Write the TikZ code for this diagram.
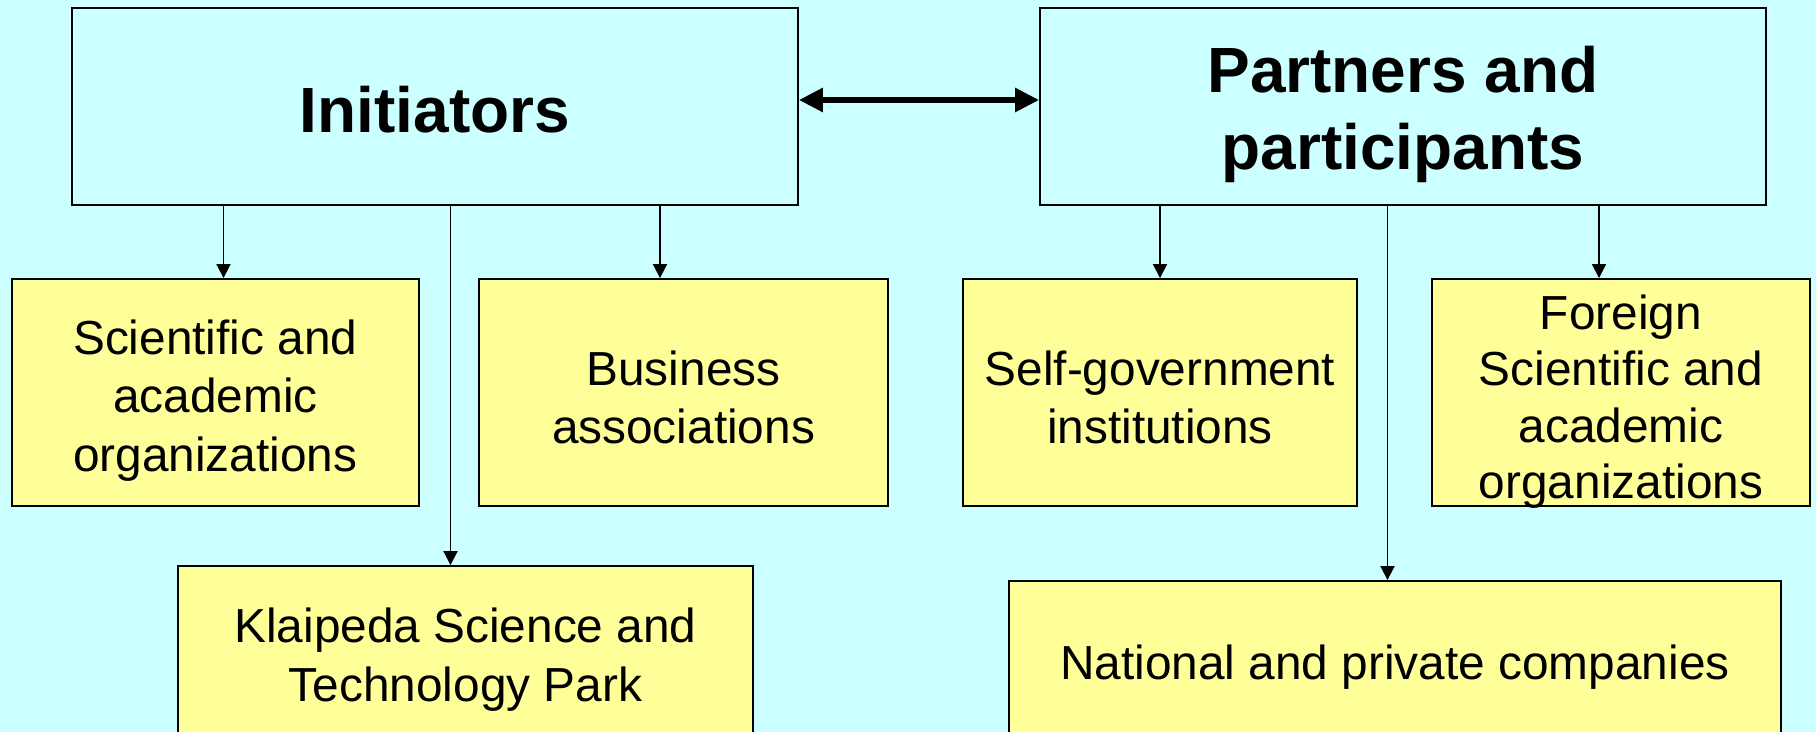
\documentclass[tikz,border=0pt]{standalone}
\usepackage{fontspec}
\setmainfont{Liberation Sans}
\usepackage{xcolor}
\usetikzlibrary{arrows.meta}
\usetikzlibrary{positioning}
\definecolor{skybg}{HTML}{CCFFFF}
\definecolor{boxyellow}{HTML}{FFFF99}
\newcommand{\capline}[1]{\rule{0pt}{#1}}
\tikzset{
  topbox/.style={draw=black, fill=skybg, line width=1.1pt, align=center, inner sep=0pt,
    font=\fontsize{36.4}{43.6}\selectfont\bfseries},
  subbox/.style={draw=black, fill=boxyellow, line width=1.1pt, align=center, inner sep=0pt,
    font=\fontsize{27.2}{33.3}\selectfont},
  arr/.style={-{Triangle[length=0.28cm,width=0.28cm]}, line width=1.1pt},
  biarr/.style={{Triangle[length=0.48cm,width=0.46cm]}-{Triangle[length=0.48cm,width=0.46cm]}, line width=3.2pt}
}

\begin{document}
\begin{tikzpicture}[x=0.02cm, y=-0.02cm]
    \path[use as bounding box, fill=skybg] (0,0) rectangle (1816,732);
    \clip (0,0) rectangle (1816,732);
    % top row
    \node[topbox, minimum width=14.52cm, minimum height=3.94cm] (A) at (435,106.5) {\capline{29.5pt}Initiators};
    \node[topbox, minimum width=14.52cm, minimum height=3.94cm] (B) at (1403,106.5) {\capline{35.2pt}Partners and\\participants};
    % middle row
    \node[subbox, minimum width=8.15cm, minimum height=4.54cm] (C1) at (215.3,392.5) {\capline{28.6pt}Scientific and\\academic\\organizations};
    \node[subbox, minimum width=8.18cm, minimum height=4.54cm] (C2) at (683.5,392.5) {\capline{25.2pt}Business\\associations};
    \node[subbox, minimum width=7.88cm, minimum height=4.54cm] (D1) at (1160,392.5) {\capline{25.2pt}Self-government\\institutions};
    \node[subbox, minimum width=7.56cm, minimum height=4.54cm, font=\fontsize{27.2}{32.2}\selectfont] (D2) at (1621,392.5) {\capline{24.4pt}Foreign\\Scientific and\\academic\\\smash{organizations}};
    % bottom row
    \node[subbox, minimum width=11.5cm, minimum height=3.52cm] (C3) at (465.5,654) {\capline{26.3pt}Klaipeda Science and\\Technology Park};
    \node[subbox, minimum width=15.44cm, minimum height=3.24cm] (D3) at (1395,662) {\capline{25.2pt}National and private companies};
    % connectors
    \draw[biarr] ([yshift=0.13cm]A.east) -- ([yshift=0.13cm]B.west);
    \path [arr] (A.south -| 223.5,0) edge (C1.north -| 223.5,0);
    \path [arr] (A.south -| 450.5,0) edge (C3.north -| 450.5,0);
    \path [arr] (A.south -| 660,0) edge (C2.north -| 660,0);
    \path [arr] (B.south -| 1160,0) edge (D1.north -| 1160,0);
    \path [arr] (B.south -| 1387.5,0) edge (D3.north -| 1387.5,0);
    \path [arr] (B.south -| 1599,0) edge (D2.north -| 1599,0);
  \end{tikzpicture}
\end{document}
